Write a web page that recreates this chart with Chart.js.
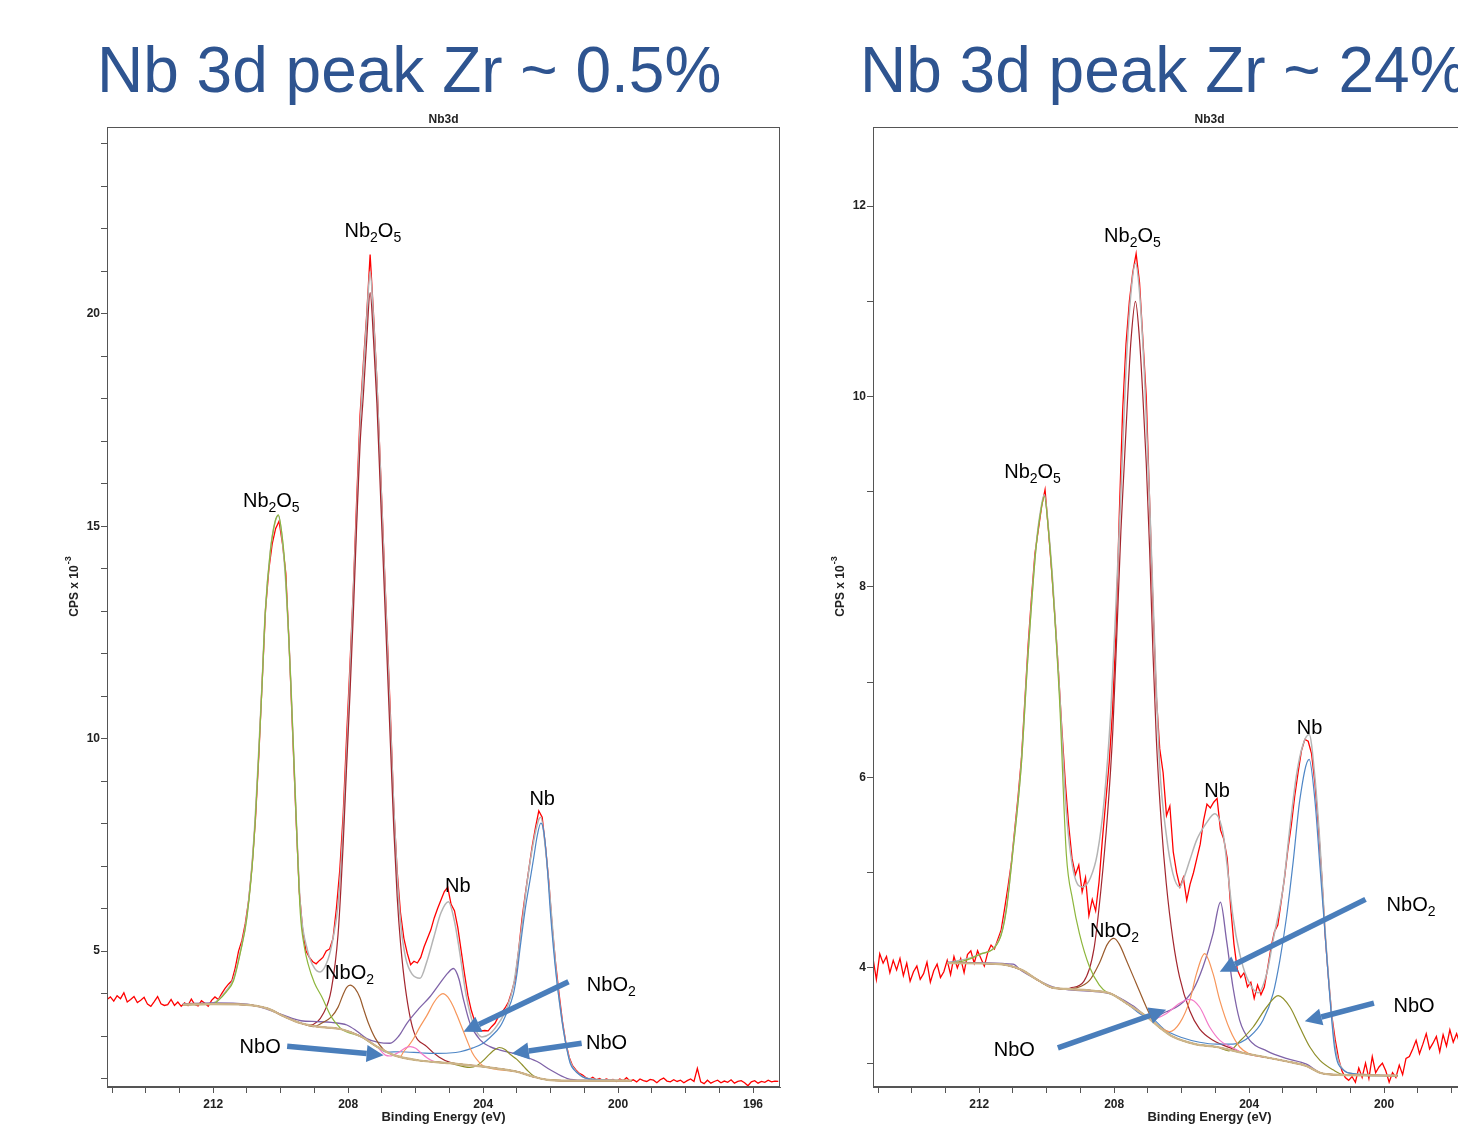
<!DOCTYPE html>
<html><head><meta charset="utf-8">
<script src="https://cdn.jsdelivr.net/npm/chart.js@4.4.1/dist/chart.umd.min.js"></script>
<style>
html,body{margin:0;padding:0;width:1458px;height:1133px;overflow:hidden;background:#fff;}
.ttl{position:absolute;top:38px;font-family:"Liberation Sans",Arial,sans-serif;font-size:64px;line-height:1;color:#2E5490;white-space:nowrap;}
#t1{left:97px}#t2{left:860px}
.box{position:absolute;top:100px;width:800px;height:1033px}
#b1{left:0}#b2{left:766px}
</style></head><body>
<div class="ttl" id="t1">Nb 3d peak Zr ~ 0.5%</div>
<div class="ttl" id="t2">Nb 3d peak Zr ~ 24%</div>
<div class="box" id="b1"><canvas id="c1" width="800" height="1033"></canvas></div>
<div class="box" id="b2"><canvas id="c2" width="800" height="1033"></canvas></div>
<script>
// ---- shared axis info ----
const GRID_START = 215.15, GRID_STEP = 0.1;       // raw spectrum sampling (eV)
const X_TICK_LABELS = [212, 208, 204, 200, 196];
const Y_TICK_LABELS_LEFT = [5, 10, 15, 20];
const Y_TICK_LABELS_RIGHT = [4, 6, 8, 10, 12];

// ---- LEFT panel (Zr ~ 0.5%) raw counts, CPS x 1e-3, from 215.15 eV down in 0.1 eV steps ----
const L_raw = [
 3.86,3.92,3.82,3.95,3.88,4.02,3.80,3.86,3.93,3.79,
 3.84,3.91,3.75,3.70,3.81,3.93,3.76,3.72,3.74,3.86,
 3.72,3.80,3.70,3.78,3.72,3.87,3.74,3.71,3.83,3.77,
 3.70,3.84,3.92,3.86,4.00,4.12,4.22,4.30,4.60,5.00,
 5.25,5.65,6.20,7.00,8.10,9.60,11.35,13.05,14.00,14.60,
 14.95,15.12,14.60,13.90,12.20,10.20,8.20,6.40,5.50,5.00,
 4.85,4.75,4.70,4.78,4.85,5.00,5.05,5.30,6.00,6.90,
 8.20,10.00,11.70,13.50,15.60,17.60,18.85,20.00,21.40,20.00,
 18.45,16.50,14.50,12.55,10.60,8.40,6.90,5.90,5.30,4.95,
 4.68,4.76,4.72,4.85,5.10,5.30,5.50,5.78,6.00,6.20,
 6.40,6.50,6.10,5.95,5.55,5.00,4.45,3.95,3.60,3.35,
 3.22,3.12,3.13,3.12,3.22,3.30,3.45,3.55,3.66,3.80,
 4.05,4.35,5.00,5.75,6.35,6.90,7.45,7.90,8.30,8.15,
 7.45,6.60,5.55,4.70,4.00,3.35,2.85,2.50,2.30,2.20,
 2.12,2.08,2.02,1.98,2.03,1.97,2.00,1.95,1.99,1.96,
 1.98,1.93,1.99,1.95,2.02,1.94,1.97,1.92,1.99,1.95,
 1.93,1.98,1.96,1.90,1.97,2.01,1.94,1.92,1.97,1.93,
 1.96,1.90,1.95,1.99,1.93,2.24,1.92,1.88,1.96,1.89,
 1.93,1.96,1.90,1.94,1.91,1.97,1.89,1.93,1.95,1.90,
 1.83,1.92,1.95,1.89,1.93,1.91,1.96,1.92,1.94,1.93];
const L_bg = [[212.9,3.74],[212.0,3.75],[211.1,3.74],[210.4,3.65],[209.9,3.46],[209.4,3.30],[208.9,3.22],[208.2,3.16],[207.6,2.98],[207.15,2.75],[206.65,2.55],[205.95,2.43],[205.0,2.36],[204.0,2.28],[203.0,2.16],[202.5,2.04],[202.0,1.96],[201.5,1.95],[199.6,1.95]];
const L_env = [[212.9,3.74],[212.0,3.78],[211.6,4.08],[211.4,4.35],[211.2,4.98],[211.0,5.85],[210.8,7.6],[210.56,11.2],[210.46,12.95],[210.31,14.4],[210.17,15.1],[210.07,15.25],[209.97,14.8],[209.87,13.9],[209.77,12.5],[209.7,11.3],[209.55,8.3],[209.42,6.1],[209.2,5.0],[209.0,4.6],[208.83,4.51],[208.6,4.8],[208.45,5.3],[208.3,6.1],[208.15,7.9],[207.99,10.7],[207.85,13.4],[207.75,15.3],[207.65,17.3],[207.55,18.7],[207.45,19.9],[207.35,21.0],[207.25,19.9],[207.15,18.4],[207.05,16.4],[206.95,14.4],[206.85,12.4],[206.75,10.4],[206.65,8.4],[206.55,6.8],[206.45,5.7],[206.3,4.85],[206.1,4.45],[205.87,4.36],[205.67,4.75],[205.47,5.3],[205.25,5.9],[205.03,6.16],[204.85,5.7],[204.7,5.0],[204.5,3.95],[204.3,3.3],[204.04,2.98],[203.8,3.05],[203.5,3.35],[203.3,3.65],[203.1,4.2],[202.9,5.3],[202.7,6.6],[202.5,7.6],[202.35,8.1],[202.29,8.15],[202.15,7.4],[202.0,6.1],[201.82,4.4],[201.62,3.15],[201.42,2.4],[201.22,2.15],[200.9,2.0],[200.0,1.96],[199.6,1.95]];
const L_nb2o5_32 = [[211.9,3.8],[211.6,4.05],[211.4,4.3],[211.2,4.95],[211.0,5.8],[210.8,7.5],[210.56,11.15],[210.46,12.95],[210.31,14.4],[210.17,15.1],[210.07,15.27],[209.97,14.85],[209.87,14.0],[209.77,12.5],[209.7,11.3],[209.55,8.3],[209.42,5.9],[209.3,5.1],[209.19,4.7],[209.0,4.25],[208.78,3.92],[208.5,3.45],[208.25,3.2]];
const L_nb2o5_52 = [[209.13,3.26],[208.73,3.54],[208.5,4.1],[208.3,5.4],[208.15,7.5],[208.05,9.3],[207.95,11.0],[207.85,12.9],[207.75,15.0],[207.65,16.9],[207.55,18.1],[207.45,19.4],[207.35,20.5],[207.25,19.4],[207.15,17.9],[207.05,15.9],[206.95,13.9],[206.85,11.9],[206.75,9.9],[206.65,7.9],[206.55,6.3],[206.45,5.2],[206.3,4.1],[206.07,3.14],[205.67,2.75],[205.3,2.5],[204.98,2.38]];
const L_nbo2_32 = [[209.03,3.22],[208.75,3.32],[208.5,3.45],[208.3,3.68],[208.15,3.98],[208.05,4.14],[207.94,4.2],[207.8,4.12],[207.65,3.9],[207.55,3.65],[207.4,3.3],[207.2,2.95],[206.95,2.68]];
const L_nbo2_52 = [[212.9,3.76],[212.0,3.78],[211.0,3.75],[210.4,3.63],[209.92,3.49],[209.4,3.36],[208.93,3.34],[208.5,3.32],[208.04,3.26],[207.75,3.12],[207.45,2.94],[207.1,2.85],[206.76,2.83],[206.5,3.0],[206.26,3.30],[205.9,3.65],[205.57,3.93],[205.3,4.22],[205.05,4.48],[204.88,4.59],[204.72,4.35],[204.58,3.85],[204.39,3.30],[204.09,2.91],[203.8,2.75],[203.5,2.67],[202.9,2.55],[202.4,2.4],[202.0,2.2],[201.5,2.0],[201.0,1.96],[199.6,1.95]];
const L_nb_32 = [[206.45,2.52],[206.36,2.63],[206.2,2.78],[206.07,2.93],[205.9,3.18],[205.67,3.48],[205.45,3.8],[205.3,3.95],[205.19,4.0],[205.05,3.92],[204.9,3.72],[204.78,3.5],[204.63,3.2],[204.48,2.9],[204.33,2.62],[204.19,2.45],[204.0,2.3]];
const L_nbo_32 = [[206.9,2.55],[206.76,2.53],[206.5,2.62],[206.3,2.72],[206.16,2.75],[206.0,2.71],[205.8,2.57],[205.57,2.44],[205.4,2.39]];
const L_nbo_52 = [[204.4,2.26],[204.19,2.3],[204.0,2.42],[203.8,2.58],[203.65,2.68],[203.52,2.73],[203.35,2.68],[203.2,2.57],[203.0,2.45],[202.85,2.33],[202.7,2.2],[202.5,2.06]];
const L_nb_52 = [[206.85,2.62],[206.46,2.63],[205.8,2.6],[205.47,2.59],[205.0,2.6],[204.68,2.63],[204.3,2.72],[204.0,2.83],[203.75,3.0],[203.5,3.22],[203.3,3.55],[203.1,4.0],[203.0,4.45],[202.9,5.1],[202.75,6.0],[202.61,6.67],[202.5,7.2],[202.4,7.7],[202.29,8.01],[202.2,7.8],[202.1,7.0],[202.01,5.95],[201.92,5.1],[201.82,4.32],[201.72,3.7],[201.62,3.14],[201.52,2.7],[201.42,2.36],[201.3,2.2],[201.22,2.14],[201.0,2.02],[200.6,1.97]];
const L_labels = [['Nb_2O_5',210.28,15.62],['Nb_2O_5',207.27,21.97],['Nb',204.75,6.55],['Nb',202.25,8.62],['NbO_2',207.96,4.51],['NbO_2',200.2,4.22],['NbO',210.61,2.77],['NbO',200.34,2.86]];
const L_arrows = [[201.47,4.28,204.58,3.10],[201.08,2.83,203.15,2.59],[209.81,2.76,206.95,2.55]];

// ---- RIGHT panel (Zr ~ 24%) ----
const R_raw = [
 4.10,3.88,4.15,4.05,4.12,3.95,4.08,3.98,4.10,3.92,
 4.05,3.86,3.96,4.02,3.88,3.94,4.06,3.85,3.97,4.04,
 3.90,3.96,4.08,3.93,4.12,4.00,4.10,3.95,4.14,4.18,
 4.05,4.18,4.10,4.02,4.16,4.24,4.20,4.30,4.40,4.62,
 4.85,5.10,5.45,5.80,6.20,6.80,7.40,7.90,8.35,8.60,
 8.85,9.02,8.60,8.15,7.65,7.10,6.50,5.95,5.50,5.15,
 4.98,5.08,4.80,4.95,4.55,4.72,4.60,4.90,5.35,5.75,
 6.15,6.70,7.50,8.75,9.85,10.55,11.00,11.30,11.50,11.20,
 10.60,10.00,8.90,7.80,6.85,6.30,6.05,5.60,5.70,5.22,
 5.00,4.85,4.95,4.71,4.88,5.00,5.15,5.30,5.55,5.72,
 5.68,5.74,5.78,5.45,5.35,5.15,4.65,4.25,3.98,3.90,
 3.95,3.80,3.85,3.68,3.82,3.72,3.80,4.00,4.22,4.38,
 4.45,4.70,4.95,5.25,5.50,5.80,6.05,6.28,6.40,6.38,
 6.25,5.94,5.50,4.98,4.36,3.90,3.50,3.25,3.05,2.92,
 2.85,2.82,2.86,2.80,2.95,2.85,3.00,2.84,3.07,2.90,
 2.96,3.00,2.92,2.80,2.90,2.85,2.98,2.88,3.05,3.07,
 3.15,3.24,3.10,3.20,3.31,3.15,3.21,3.28,3.12,3.30,
 3.18,3.35,3.22,3.31,3.20,3.28,3.36,3.25,3.30,3.22,
 3.26,3.18,3.32,3.24,3.30,3.20,3.34,3.22,3.28,3.25,
 3.30,3.21,3.27,3.35,3.24,3.30,3.26,3.33,3.22,3.29];
const R_bg = [[212.95,4.05],[211.4,4.04],[210.75,3.98],[210.3,3.88],[209.8,3.79],[209.4,3.78],[208.6,3.76],[208.1,3.73],[207.6,3.62],[207.04,3.49],[206.6,3.36],[206.27,3.28],[205.6,3.2],[204.96,3.17],[204.2,3.11],[203.48,3.06],[202.9,3.02],[202.3,2.97],[201.9,2.9],[201.5,2.88],[199.6,2.87]];
const R_env = [[212.95,4.05],[212.0,4.14],[211.41,4.3],[211.2,4.62],[211.01,5.22],[210.76,6.12],[210.57,7.22],[210.32,8.42],[210.15,8.87],[210.07,8.97],[209.95,8.62],[209.82,8.05],[209.62,6.9],[209.42,5.65],[209.2,5.0],[208.93,4.85],[208.7,4.95],[208.5,5.2],[208.3,5.75],[208.1,6.7],[207.95,7.8],[207.8,9.0],[207.65,10.3],[207.5,11.1],[207.37,11.4],[207.25,11.1],[207.1,10.2],[206.95,8.9],[206.8,7.4],[206.65,6.11],[206.46,5.41],[206.26,4.99],[206.06,4.85],[205.96,4.92],[205.76,5.13],[205.56,5.34],[205.27,5.52],[205.02,5.62],[204.77,5.41],[204.67,5.13],[204.48,4.54],[204.28,4.15],[204.08,3.91],[203.73,3.74],[203.48,3.94],[203.29,4.29],[202.99,4.85],[202.79,5.48],[202.59,6.04],[202.4,6.35],[202.22,6.45],[202.05,6.0],[201.9,5.3],[201.75,4.4],[201.6,3.7],[201.46,3.2],[201.21,2.93],[200.91,2.89],[199.6,2.87]];
const R_nb2o5_32 = [[212.5,4.07],[212.0,4.14],[211.41,4.29],[211.2,4.6],[211.01,5.2],[210.76,6.1],[210.57,7.2],[210.32,8.4],[210.15,8.85],[210.07,8.95],[209.95,8.6],[209.82,8.0],[209.62,6.81],[209.42,5.2],[209.23,4.71],[209.03,4.36],[208.73,4.01],[208.44,3.82],[208.2,3.74]];
const R_nb2o5_52 = [[209.3,3.79],[208.9,3.86],[208.6,4.2],[208.4,4.8],[208.2,5.6],[208.04,6.5],[207.9,7.7],[207.8,8.6],[207.7,9.3],[207.6,10.0],[207.5,10.6],[207.37,11.0],[207.25,10.6],[207.15,10.0],[207.05,9.3],[206.95,8.4],[206.85,7.3],[206.75,6.4],[206.6,5.5],[206.46,4.9],[206.26,4.3],[206.06,3.9],[205.76,3.55],[205.47,3.36],[205.07,3.24],[204.48,3.15],[204.2,3.11]];
const R_nbo2_32 = [[209.13,3.79],[208.73,3.87],[208.44,4.05],[208.2,4.25],[208.01,4.31],[207.85,4.25],[207.64,4.08],[207.35,3.84],[207.05,3.59],[206.85,3.45],[206.65,3.37]];
const R_nbo2_52 = [[212.95,4.06],[211.0,4.04],[210.75,3.97],[210.3,3.88],[209.8,3.80],[209.33,3.77],[208.14,3.73],[207.43,3.6],[206.95,3.48],[206.46,3.54],[206.06,3.61],[205.66,3.77],[205.37,4.01],[205.07,4.36],[204.85,4.69],[204.67,4.29],[204.48,3.80],[204.28,3.45],[203.98,3.24],[203.48,3.13],[202.9,3.05],[202.3,2.99],[201.9,2.9],[201.5,2.88],[199.6,2.87]];
const R_nb_32 = [[206.6,3.37],[206.36,3.33],[206.06,3.42],[205.76,3.66],[205.56,3.94],[205.32,4.15],[205.07,3.94],[204.87,3.66],[204.57,3.35],[204.28,3.17],[204.0,3.1]];
const R_nbo_32 = [[206.9,3.46],[206.46,3.52],[206.06,3.63],[205.76,3.67],[205.47,3.59],[205.17,3.38],[204.87,3.24],[204.48,3.16],[204.2,3.11]];
const R_nbo_52 = [[204.6,3.13],[204.28,3.23],[203.88,3.38],[203.48,3.59],[203.14,3.71],[202.79,3.59],[202.5,3.38],[202.2,3.17],[201.9,3.03],[201.51,2.93],[201.2,2.88]];
const R_nb_52 = [[207.0,3.49],[206.46,3.34],[206.0,3.27],[205.47,3.22],[204.96,3.2],[204.48,3.2],[203.98,3.28],[203.59,3.45],[203.29,3.73],[203.09,4.08],[202.89,4.54],[202.69,5.13],[202.5,5.76],[202.22,6.19],[202.05,5.76],[201.9,5.06],[201.75,4.36],[201.6,3.66],[201.46,3.14],[201.21,2.93],[200.91,2.89],[200.5,2.87]];
const R_labels = [['Nb_2O_5',210.42,9.22],['Nb_2O_5',207.46,11.70],['Nb',204.95,5.87],['Nb',202.21,6.53],['NbO_2',207.99,4.40],['NbO_2',199.20,4.67],['NbO',210.96,3.15],['NbO',199.11,3.61]];
const R_arrows = [[200.55,4.72,204.87,3.96],[200.30,3.63,202.35,3.44],[209.67,3.16,206.46,3.56]];

// ---- helpers ----
const FONT = '"Liberation Sans", Arial, Helvetica, sans-serif';
function asc(arr){ return arr.slice().sort((a,b)=>a.x-b.x); }
function pts(arr){ return asc(arr.map(p=>({x:p[0],y:p[1]}))); }
function rawPts(vals){ return asc(vals.map((v,i)=>({x:+(GRID_START - i*GRID_STEP).toFixed(2), y:v}))); }
function onBg(bg, peak){
  const hi = Math.max(...peak.map(p=>p[0])), lo = Math.min(...peak.map(p=>p[0]));
  return pts(bg.filter(p=>p[0]>hi || p[0]<lo).concat(peak));
}
function line(data, color, width, smooth){
  return {data, borderColor:color, borderWidth:width, pointRadius:0, fill:false,
          tension: smooth?0.4:0, cubicInterpolationMode: smooth?'monotone':'default'};
}
function parseRich(s){ return s.split(/(_\d)/).filter(t=>t).map(t=>t[0]==='_'?[t.slice(1),1]:[t,0]); }
function drawRich(ctx, parts, cx, cy){
  const fm = '20px '+FONT, fs = '14px '+FONT;
  let w = 0; parts.forEach(p=>{ ctx.font = p[1]?fs:fm; w += ctx.measureText(p[0]).width; });
  let x = cx - w/2; const base = cy + 7.2;
  ctx.textBaseline = 'alphabetic'; ctx.textAlign = 'left'; ctx.fillStyle = '#000';
  parts.forEach(p=>{ ctx.font = p[1]?fs:fm; ctx.fillText(p[0], x, p[1]?base+5:base); x += ctx.measureText(p[0]).width; });
}
function drawArrow(ctx, x1, y1, x2, y2){
  const a = Math.atan2(y2-y1, x2-x1), L = 17, W = 8.5;
  const bx = x2 - L*Math.cos(a), by = y2 - L*Math.sin(a);
  ctx.strokeStyle = ctx.fillStyle = '#4A7EBB'; ctx.lineWidth = 5.5; ctx.lineCap = 'butt';
  ctx.beginPath(); ctx.moveTo(x1,y1); ctx.lineTo(bx,by); ctx.stroke();
  ctx.beginPath(); ctx.moveTo(x2,y2);
  ctx.lineTo(bx - W*Math.sin(a), by + W*Math.cos(a));
  ctx.lineTo(bx + W*Math.sin(a), by - W*Math.cos(a));
  ctx.closePath(); ctx.fill();
}
const framePlugin = { id:'frame', afterDraw(c){
  const a = c.chartArea, ctx = c.ctx; ctx.save();
  ctx.strokeStyle = '#555'; ctx.lineWidth = 1;
  ctx.strokeRect(Math.round(a.left)+0.5, Math.round(a.top)+0.5, Math.round(a.right-a.left)-1, Math.round(a.bottom-a.top)-1);
  ctx.restore(); } };
function annotPlugin(labels, arrows){
  return { id:'annot', afterDatasetsDraw(c){
    const ctx = c.ctx, xs = c.scales.x, ys = c.scales.y, a = c.chartArea;
    ctx.save();
    arrows.forEach(r=>drawArrow(ctx, xs.getPixelForValue(r[0]), ys.getPixelForValue(r[1]), xs.getPixelForValue(r[2]), ys.getPixelForValue(r[3])));
    labels.forEach(l=>drawRich(ctx, parseRich(l[0]), xs.getPixelForValue(l[1]), ys.getPixelForValue(l[2])));
    // panel title
    ctx.font = 'bold 12px '+FONT; ctx.fillStyle = '#222'; ctx.textAlign = 'center'; ctx.textBaseline = 'middle';
    ctx.fillText('Nb3d', (a.left+a.right)/2, a.top - 7);
    // y axis title, rotated, with superscript
    ctx.translate(a.left - 32, a.top + 460); ctx.rotate(-Math.PI/2);
    ctx.textAlign = 'left'; ctx.textBaseline = 'middle';
    const m = 'bold 12px '+FONT, s = 'bold 9px '+FONT;
    ctx.font = m; const w1 = ctx.measureText('CPS x 10').width; ctx.font = s; const w2 = ctx.measureText('-3').width;
    ctx.font = m; ctx.fillText('CPS x 10', -(w1+w2)/2, 0);
    ctx.font = s; ctx.fillText('-3', -(w1+w2)/2 + w1 + 1, -6);
    ctx.restore(); } };
}

function build(id, P){
  const datasets = [
    line(pts(P.bg), '#CDB58A', 2.2, true),
    line(pts(P.bg), '#7A3B1E', 1, true),
    line(onBg(P.bg, P.nb2o5_32), '#8DB63C', 1.2, true),
    line(onBg(P.bg, P.nbo2_32), '#9A5B2C', 1.2, true),
    line(onBg(P.bg, P.nbo_32), '#F37AC8', 1.2, true),
    line(onBg(P.bg, P.nb_32), '#F7965A', 1.2, true),
    line(onBg(P.bg, P.nbo_52), '#8F8F2A', 1.2, true),
    line(onBg(P.bg, P.nb_52), '#4E86C6', 1.2, true),
    line(pts(P.nbo2_52), '#7F63A8', 1.3, true),
    line(onBg(P.bg, P.nb2o5_52), '#A3262E', 1.2, true),
    line(pts(P.env), '#B4B4B4', 1.5, true),
    line(rawPts(P.raw), '#FF0000', 1.3, false)
  ];
  const tickFont = {family:FONT, size:12, weight:'bold'};
  return new Chart(document.getElementById(id), {
    type:'line', data:{datasets},
    options:{
      responsive:false, animation:false, events:[],
      layout:{padding:{left:0,right:20,top:27,bottom:0}},
      plugins:{legend:{display:false}, tooltip:{enabled:false}, title:{display:false}},
      scales:{
        x:{type:'linear', reverse:true, min:195.2, max:215.15,
           border:{display:true,color:'#555',width:1},
           grid:{display:true,drawOnChartArea:false,drawTicks:true,tickLength:6,color:'#555'},
           ticks:{stepSize:1,autoSkip:false,includeBounds:false,maxRotation:0,padding:4,font:tickFont,color:'#222',
                  callback:v=>X_TICK_LABELS.includes(v)?String(v):''},
           title:{display:true,text:'Binding Energy (eV)',font:{family:FONT,size:13,weight:'bold'},color:'#222',padding:{top:0,bottom:7.4}},
           afterFit:s=>{s.height=46;}},
        y:{type:'linear', min:P.ymin, max:P.ymax,
           border:{display:true,color:'#555',width:1},
           grid:{display:true,drawOnChartArea:false,drawTicks:true,tickLength:6,color:'#555'},
           ticks:{stepSize:1,autoSkip:false,includeBounds:false,padding:1,font:tickFont,color:'#222',
                  callback:v=>P.ylabels.includes(v)?String(v):''},
           afterFit:s=>{s.width=107;}}
      }
    },
    plugins:[framePlugin, annotPlugin(P.labels, P.arrows)]
  });
}

build('c1', {raw:L_raw, bg:L_bg, env:L_env, nb2o5_32:L_nb2o5_32, nb2o5_52:L_nb2o5_52, nbo2_32:L_nbo2_32, nbo2_52:L_nbo2_52,
  nb_32:L_nb_32, nbo_32:L_nbo_32, nbo_52:L_nbo_52, nb_52:L_nb_52, labels:L_labels, arrows:L_arrows,
  ymin:1.80, ymax:24.40, ylabels:Y_TICK_LABELS_LEFT});
build('c2', {raw:R_raw, bg:R_bg, env:R_env, nb2o5_32:R_nb2o5_32, nb2o5_52:R_nb2o5_52, nbo2_32:R_nbo2_32, nbo2_52:R_nbo2_52,
  nb_32:R_nb_32, nbo_32:R_nbo_32, nbo_52:R_nbo_52, nb_52:R_nb_52, labels:R_labels, arrows:R_arrows,
  ymin:2.75, ymax:12.83, ylabels:Y_TICK_LABELS_RIGHT});
</script>
</body></html>
